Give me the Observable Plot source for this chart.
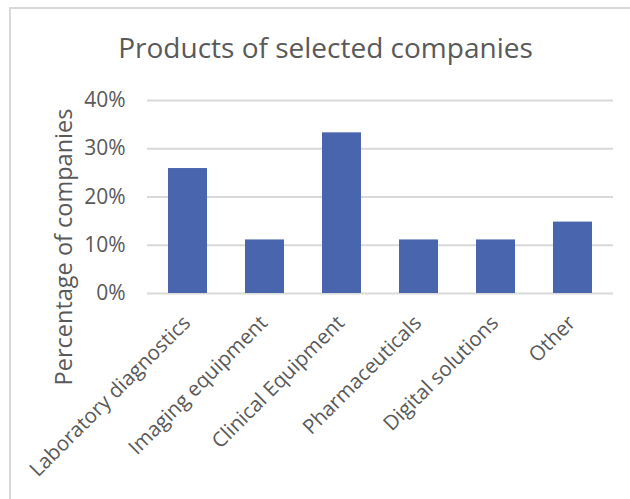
<!DOCTYPE html>
<html>
<head>
<meta charset="utf-8">
<script src="https://cdn.jsdelivr.net/npm/d3@7"></script>
<script src="https://cdn.jsdelivr.net/npm/@observablehq/plot@0.6"></script>
<style>
  html, body { margin: 0; padding: 0; background: #fff; }
  #wrap { position: relative; width: 630px; height: 499px; overflow: hidden; }
  #border { position: absolute; left: 9px; top: 7px; width: 640px; height: 520px; border: 2px solid #D9D9D9; box-sizing: border-box; }
  #chart { position: absolute; left: 0; top: 0; }
</style>
</head>
<body>
<div id="wrap"><div id="border"></div><div id="chart"></div></div>
<script>
const categories = ["Laboratory diagnostics", "Imaging equipment", "Clinical Equipment", "Pharmaceuticals", "Digital solutions", "Other"];
const shares = [0.259, 0.111, 0.333, 0.111, 0.111, 0.148];
const yTicks = [0, 0.1, 0.2, 0.3, 0.4];
const title = "Products of selected companies";
const yLabel = "Percentage of companies";

const data = categories.map((c, i) => ({category: c, value: shares[i]}));
const font = "'Open Sans', sans-serif";
const textColor = "#595959";

const plot = Plot.plot({
  width: 630,
  height: 499,
  marginLeft: 147,
  marginRight: 17,
  marginTop: 100,
  marginBottom: 206,
  style: {fontFamily: font, background: "transparent", overflow: "visible"},
  x: {domain: categories, paddingInner: 0.5, paddingOuter: 0.25, axis: null},
  y: {domain: [0, 0.4], axis: null},
  marks: [
    Plot.ruleY(yTicks, {stroke: "#D9D9D9", strokeWidth: 2}),
    Plot.barY(data, {x: "category", y: "value", fill: "#4965AD"}),
    Plot.text(yTicks, {
      y: d => d, frameAnchor: "left", text: d => `${Math.round(d * 100)}%`,
      textAnchor: "end", dx: -22, fontSize: 21, fill: textColor
    }),
    Plot.text(categories, {
      x: d => d, frameAnchor: "bottom", text: d => d, rotate: -45,
      textAnchor: "end", lineAnchor: "middle", dx: -1, dy: 26, fontSize: 20.5, fill: textColor
    }),
    Plot.text([title], {
      frameAnchor: "top", text: d => d, textAnchor: "middle", lineAnchor: "top",
      dx: -55, dy: -62, fontSize: 28, fill: textColor
    }),
    Plot.text([yLabel], {
      frameAnchor: "left", text: d => d, rotate: -90, textAnchor: "middle", lineAnchor: "middle",
      dx: -83, dy: 50, fontSize: 23.5, fill: textColor
    })
  ]
});
document.getElementById("chart").appendChild(plot);
</script>
</body>
</html>
